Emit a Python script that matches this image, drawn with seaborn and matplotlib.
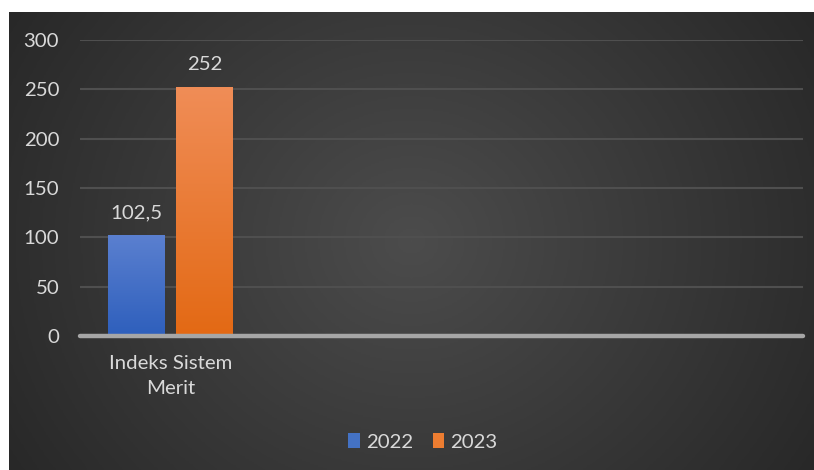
import numpy as np
import pandas as pd
import matplotlib
matplotlib.use("Agg")
import matplotlib.pyplot as plt
import seaborn as sns
from matplotlib.colors import LinearSegmentedColormap

categories = ["Indeks Sistem\nMerit"]
years = ["2022", "2023"]
values_2022 = [102.5]
values_2023 = [252]
value_labels = {"2022": ["102,5"], "2023": ["252"]}
y_ticks = [0, 50, 100, 150, 200, 250, 300]

df = pd.DataFrame({
    "kategori": categories * 2,
    "tahun": [years[0]] * len(categories) + [years[1]] * len(categories),
    "nilai": values_2022 + values_2023,
})

sns.set_theme(style="dark")
plt.rcParams["font.family"] = ["Lato", "DejaVu Sans"]

FS = 14.7
W, H = 8.14, 4.70
fig = plt.figure(figsize=(W, H), dpi=100)
fig.patch.set_facecolor("white")

# Dark chart panel with a soft radial glow in the middle
bg = fig.add_axes([9 / 814, 0, 1 - 9 / 814, 1 - 12 / 470])
yy, xx = np.mgrid[-1:1:300j, -1:1:600j]
r = np.sqrt((xx / 1.0) ** 2 + (yy / 1.6) ** 2)
shade = np.clip(1 - r / 1.25, 0, 1)
bg_cmap = LinearSegmentedColormap.from_list("bg", ["#262626", "#4c4c4c"])
bg.imshow(shade, cmap=bg_cmap, aspect="auto", extent=[0, 1, 0, 1], vmin=0, vmax=1)
bg.set_axis_off()

ax = fig.add_axes([80 / 814, 1 - 336 / 470, 723 / 814, (336 - 40) / 470])
ax.set_facecolor("none")

palette = {"2022": "#4472c4", "2023": "#ed7d31"}
sns.barplot(data=df, x="kategori", y="nilai", hue="tahun", palette=palette,
            width=0.757, gap=0.167, ax=ax, legend=True, saturation=1)

ax.set_xlim(-0.5, 3.5)
ax.set_ylim(0, 300)
ax.set_yticks(y_ticks)
ax.set_yticklabels([str(t) for t in y_ticks])
ax.set_xticks(range(len(categories)))
ax.set_xticklabels(categories, linespacing=1.55)
ax.set_xlabel("")
ax.set_ylabel("")
for s in ax.spines.values():
    s.set_visible(False)
ax.grid(False)
ax.tick_params(axis="both", length=0, colors="#d9d9d9", labelsize=FS)
ax.tick_params(axis="y", pad=15)
ax.tick_params(axis="x", pad=14)
for t in ax.get_yticklabels() + ax.get_xticklabels():
    t.set_color("#d9d9d9")

for t in y_ticks[1:]:
    ax.axhline(t, color="#4f4f4f", lw=1.5, zorder=0.5)

# Gradient fills for the bars
grads = {
    "2022": ["#5b80d0", "#2e5fbc"],
    "2023": ["#f08d57", "#e36914"],
}
for container, yr in zip(ax.containers, years):
    cm = LinearSegmentedColormap.from_list(yr, grads[yr][::-1])
    for bar in container:
        x0, y0 = bar.get_x(), bar.get_y()
        w, h = bar.get_width(), bar.get_height()
        bar.set_facecolor("none")
        bar.set_edgecolor("none")
        grad = np.linspace(0, 1, 256).reshape(-1, 1)
        im = ax.imshow(grad, cmap=cm, aspect="auto", origin="lower",
                       extent=[x0, x0 + w, y0, y0 + h], zorder=2)
        im.set_clip_path(bar)
    ax.bar_label(container, labels=value_labels[yr], padding=10,
                 color="#d9d9d9", fontsize=FS)

ax.set_xlim(-0.5, 3.5)
ax.set_ylim(0, 300)

# Baseline
ax.axhline(0, color="#a6a6a6", lw=3.2, zorder=3, clip_on=False)

handles, labels = ax.get_legend_handles_labels()
ax.legend_.remove()
for h, yr in zip(handles, years):
    h.set_facecolor(palette[yr])
    h.set_edgecolor("none")
leg = fig.legend(handles, labels, loc="center", bbox_to_anchor=(423 / 814, 1 - 442 / 470),
                 ncol=2, frameon=False, fontsize=FS, handlelength=0.55, handleheight=0.7,
                 handletextpad=0.3, columnspacing=1.0)
for t in leg.get_texts():
    t.set_color("#d9d9d9")

fig.savefig("out.png", dpi=100, facecolor="white")
